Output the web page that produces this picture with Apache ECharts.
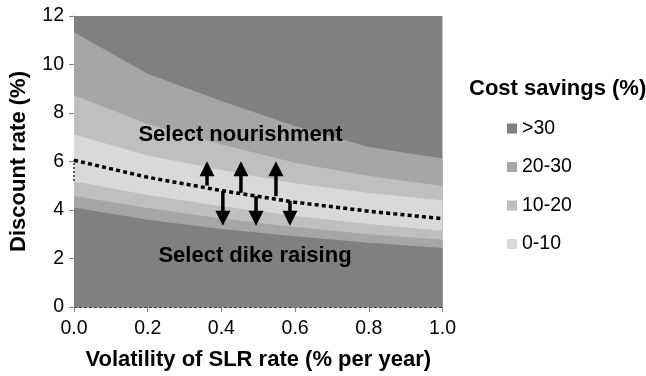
<!DOCTYPE html>
<html>
<head>
<meta charset="utf-8">
<script src="https://cdn.jsdelivr.net/npm/echarts@6/dist/echarts.min.js"></script>
<style>
  html, body { margin: 0; padding: 0; background: #fff; }
  #chart { width: 646px; height: 376px; }
</style>
</head>
<body>
<div id="chart"></div>
<script>
// Volatility of SLR rate (% per year)
const volatility = [0.0, 0.2, 0.4, 0.6, 0.8, 1.0];

// Boundaries of the cost-savings bands (discount rate, %), top to bottom
const upper30 = [11.33, 9.62, 8.50, 7.45, 6.60, 6.12]; // >30 | 20-30 (nourishment side)
const upper20 = [8.73, 7.55, 6.70, 5.95, 5.40, 4.99];  // 20-30 | 10-20
const upper10 = [7.11, 6.25, 5.65, 5.10, 4.70, 4.40];  // 10-20 | 0-10
const lower10 = [5.19, 4.62, 4.15, 3.75, 3.42, 3.14];  // 0-10 | 10-20 (dike side)
const lower20 = [4.58, 4.08, 3.65, 3.30, 3.00, 2.77];  // 10-20 | 20-30
const lower30 = [4.10, 3.60, 3.22, 2.92, 2.65, 2.43];  // 20-30 | >30

// Indifference line between the two strategies
const indifference = [6.05, 5.35, 4.80, 4.32, 3.95, 3.64];
const indifferenceStartX = [0.0, 0.0];
const indifferenceStartY = [5.20, 6.05];

// Arrows: x position, start and tip (discount rate)
const upArrowX = [0.361, 0.453, 0.548];
const upArrowFrom = [5.01, 4.71, 4.57];
const upArrowTo = [6.01, 6.01, 6.01];
const downArrowX = [0.404, 0.494, 0.586];
const downArrowFrom = [4.78, 4.57, 4.37];
const downArrowTo = [3.35, 3.35, 3.35];

const legendNames = ['>30', '20-30', '10-20', '0-10'];
const bandColors = { '>30': '#808080', '20-30': '#a6a6a6', '10-20': '#bfbfbf', '0-10': '#d9d9d9' };

const FONT = 'Liberation Sans, Arial, sans-serif';

function pairs(xs, ys) { return xs.map((x, i) => [x, ys[i]]); }

function band(name, ys) {
  return {
    type: 'line',
    name: name,
    data: pairs(volatility, ys),
    symbol: 'none',
    lineStyle: { width: 0 },
    areaStyle: { color: bandColors[name], opacity: 1 },
    itemStyle: { color: bandColors[name] },
    silent: true,
    z: 1
  };
}

const arrows = upArrowX.map((x, i) => [x, upArrowFrom[i], upArrowTo[i]])
  .concat(downArrowX.map((x, i) => [x, downArrowFrom[i], downArrowTo[i]]));

const chart = echarts.init(document.getElementById('chart'), null, { renderer: 'canvas' });

chart.setOption({
  animation: false,
  backgroundColor: '#ffffff',
  grid: {
    left: 74, right: 203.5, top: 16, bottom: 68,
    show: true, backgroundColor: bandColors['>30'], borderWidth: 0
  },
  legend: {
    data: legendNames,
    orient: 'vertical',
    left: 502, top: 113,
    icon: 'rect',
    itemWidth: 10, itemHeight: 10,
    itemGap: 17.5,
    textStyle: { fontFamily: FONT, fontSize: 19.5, color: '#000', lineHeight: 21, padding: [0, 0, 0, 0] },
    selectedMode: false
  },
  xAxis: {
    type: 'value', min: 0, max: 1, interval: 0.2,
    name: 'Volatility of SLR rate (% per year)',
    nameLocation: 'middle', nameGap: 42,
    nameTextStyle: { fontFamily: FONT, fontSize: 22, fontWeight: 'bold', color: '#000' },
    axisLine: { show: true, onZero: false, lineStyle: { color: '#404040', width: 1, type: [3, 2] } },
    axisTick: { show: true, length: 5, lineStyle: { color: '#868686' } },
    axisLabel: { fontFamily: FONT, fontSize: 19.5, color: '#000', margin: 12,
      formatter: v => v.toFixed(1) },
    splitLine: { show: false }
  },
  yAxis: {
    type: 'value', min: 0, max: 12, interval: 2,
    name: 'Discount rate (%)',
    nameLocation: 'middle', nameGap: 44,
    nameTextStyle: { fontFamily: FONT, fontSize: 22, fontWeight: 'bold', color: '#000' },
    axisLine: { show: true, lineStyle: { color: '#868686', width: 1 } },
    axisTick: { show: true, length: 5, lineStyle: { color: '#868686' } },
    axisLabel: { fontFamily: FONT, fontSize: 19.5, color: '#000', margin: 10 },
    splitLine: { show: false }
  },
  series: [
    band('20-30', upper30),
    band('10-20', upper20),
    band('0-10', upper10),
    band('10-20', lower10),
    band('20-30', lower20),
    band('>30', lower30),
    {
      type: 'line', name: 'indifference',
      data: pairs(volatility, indifference),
      symbol: 'none', silent: true, z: 3,
      lineStyle: { color: '#000', width: 3.5, type: [4, 3.2], cap: 'butt' }
    },
    {
      type: 'line', name: 'indifference-start',
      data: pairs(indifferenceStartX, indifferenceStartY),
      symbol: 'none', silent: true, z: 3,
      lineStyle: { color: '#000', width: 1.2, type: [2, 2] }
    },
    {
      type: 'custom', name: 'arrows', silent: true, z: 4,
      data: arrows,
      renderItem: function (params, api) {
        const p0 = api.coord([api.value(0), api.value(1)]);
        const p1 = api.coord([api.value(0), api.value(2)]);
        const dir = p1[1] > p0[1] ? 1 : -1;
        const headH = 15, headW = 15;
        const baseY = p1[1] - dir * headH;
        return {
          type: 'group',
          children: [
            { type: 'line', shape: { x1: p0[0], y1: p0[1], x2: p0[0], y2: baseY + dir * 1 },
              style: { stroke: '#000', lineWidth: 3.5 } },
            { type: 'polygon', shape: { points: [[p1[0], p1[1]], [p1[0] - headW / 2, baseY], [p1[0] + headW / 2, baseY]] },
              style: { fill: '#000' } }
          ]
        };
      }
    }
  ],
  graphic: [
    { type: 'text', left: 469, top: 78, z: 100,
      style: { text: 'Cost savings (%)', fontFamily: FONT, fontSize: 22, fontWeight: 'bold', fill: '#000' } },
    { type: 'text', x: 240.5, y: 135, z: 100,
      style: { text: 'Select nourishment', fontFamily: FONT, fontSize: 22, fontWeight: 'bold', fill: '#000',
        align: 'center', verticalAlign: 'middle' } },
    { type: 'text', x: 255, y: 256, z: 100,
      style: { text: 'Select dike raising', fontFamily: FONT, fontSize: 22, fontWeight: 'bold', fill: '#000',
        align: 'center', verticalAlign: 'middle' } }
  ]
});
</script>
</body>
</html>
